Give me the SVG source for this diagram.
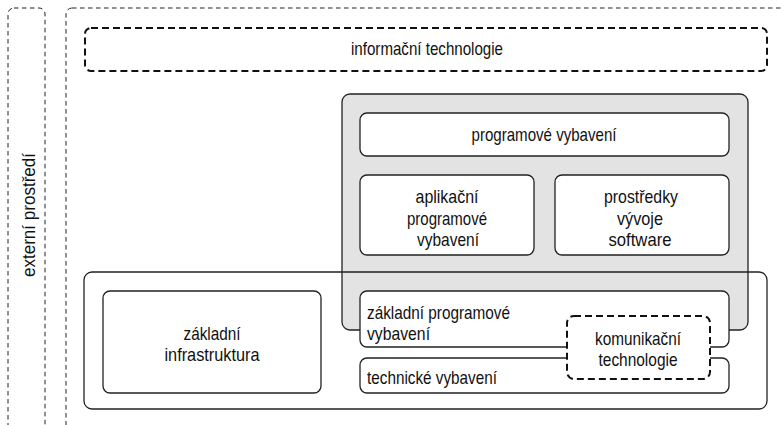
<svg xmlns="http://www.w3.org/2000/svg" width="781" height="425" viewBox="0 0 781 425">
<style>
.t{font-family:"Liberation Sans",Arial,sans-serif;font-size:18.5px;fill:#111}
.c{text-anchor:middle}
.box{fill:#fff;stroke:#222;stroke-width:1.3}
.grey{fill:#e3e3e3;stroke:#222;stroke-width:1.3}
.thin{fill:none;stroke:#222;stroke-width:1;stroke-dasharray:4.5 3.5}
.thick{fill:#fff;stroke:#111;stroke-width:2;stroke-dasharray:7 4}
</style>
<rect width="781" height="425" fill="#fff"/>
<g id="externi">
<rect class="thin" x="8" y="8" width="37" height="440" rx="6"/>
<text class="t c" transform="translate(35,215) rotate(-90)" textLength="124" lengthAdjust="spacingAndGlyphs">externí prostředí</text>
</g>
<g id="it-area">
<rect class="thin" x="66" y="8" width="740" height="440" rx="6"/>
</g>
<g id="informacni-technologie">
<rect class="thick" x="85" y="28" width="682" height="43" rx="6"/>
<text class="t c" x="427" y="55" textLength="152" lengthAdjust="spacingAndGlyphs">informační technologie</text>
</g>
<g id="software-area">
<rect class="grey" x="342" y="94" width="406" height="236" rx="8"/>
</g>
<g id="infrastruktura-area">
<rect x="84" y="272" width="683" height="137" rx="8" fill="none" stroke="#222" stroke-width="1.3"/>
</g>
<g id="programove-vybaveni">
<rect class="box" x="360" y="113" width="369" height="43" rx="7"/>
<text class="t c" x="544" y="141" textLength="145" lengthAdjust="spacingAndGlyphs">programové vybavení</text>
</g>
<g id="aplikacni">
<rect class="box" x="360" y="175" width="174" height="80" rx="7"/>
<text class="t c" x="447" y="203" textLength="63" lengthAdjust="spacingAndGlyphs">aplikační</text>
<text class="t c" x="447" y="225" textLength="80" lengthAdjust="spacingAndGlyphs">programové</text>
<text class="t c" x="448" y="246" textLength="62" lengthAdjust="spacingAndGlyphs">vybavení</text>
</g>
<g id="prostredky">
<rect class="box" x="555" y="175" width="174" height="80" rx="7"/>
<text class="t c" x="641" y="203" textLength="74" lengthAdjust="spacingAndGlyphs">prostředky</text>
<text class="t c" x="640" y="225" textLength="46" lengthAdjust="spacingAndGlyphs">vývoje</text>
<text class="t c" x="640" y="246" textLength="63" lengthAdjust="spacingAndGlyphs">software</text>
</g>
<g id="zakladni-infrastruktura">
<rect class="box" x="103" y="291" width="218" height="102" rx="7"/>
<text class="t c" x="212" y="340" textLength="57" lengthAdjust="spacingAndGlyphs">základní</text>
<text class="t c" x="212" y="361" textLength="95" lengthAdjust="spacingAndGlyphs">infrastruktura</text>
</g>
<g id="zakladni-programove">
<rect class="box" x="360" y="291" width="369" height="56" rx="7"/>
<text class="t" x="367" y="319" textLength="143" lengthAdjust="spacingAndGlyphs">základní programové</text>
<text class="t" x="367" y="340" textLength="63" lengthAdjust="spacingAndGlyphs">vybavení</text>
</g>
<g id="technicke-vybaveni">
<rect class="box" x="360" y="358" width="369" height="35" rx="7"/>
<text class="t" x="367" y="384" textLength="130" lengthAdjust="spacingAndGlyphs">technické vybavení</text>
</g>
<g id="komunikacni-technologie">
<rect class="thick" x="567" y="316" width="143" height="63" rx="7"/>
<text class="t c" x="638" y="345" textLength="86" lengthAdjust="spacingAndGlyphs">komunikační</text>
<text class="t c" x="638" y="366" textLength="79" lengthAdjust="spacingAndGlyphs">technologie</text>
</g>
<g id="connectors"></g>
</svg>
